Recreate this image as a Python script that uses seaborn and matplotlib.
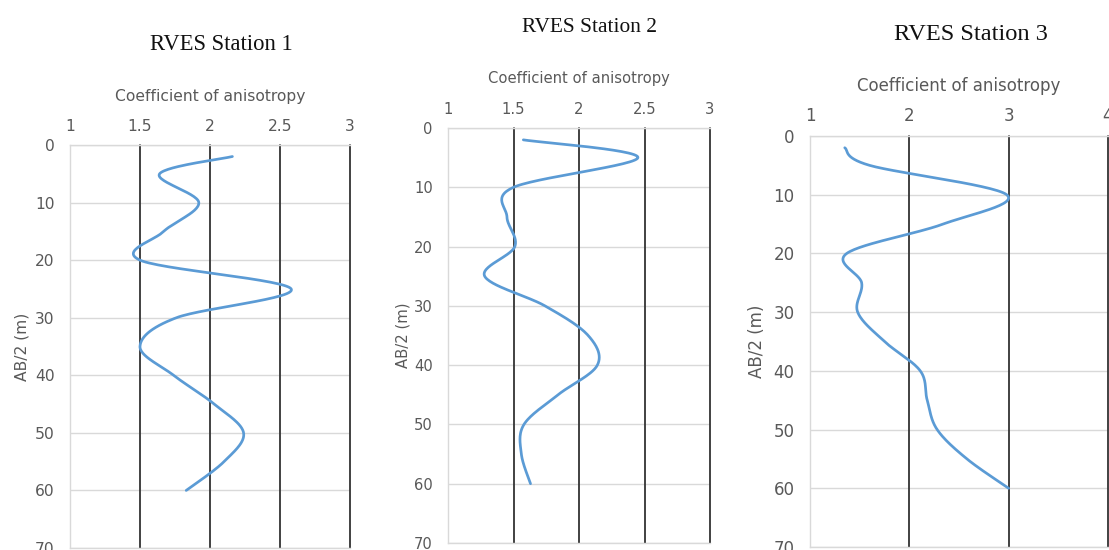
import numpy as np
import pandas as pd
import matplotlib
matplotlib.use("Agg")
import matplotlib.pyplot as plt
import seaborn as sns

# ---- data: coefficient of anisotropy at each half electrode spacing AB/2 (m) ----
ab2 = [2, 5, 10, 15, 20, 25, 30, 35, 40, 45, 50, 55, 60]
station1_coef = [2.16, 1.64, 1.92, 1.67, 1.50, 2.58, 1.76, 1.50, 1.74, 2.03,
                 2.24, 2.10, 1.83]
station2_coef = [1.575, 2.45, 1.50, 1.45, 1.51, 1.28, 1.74, 2.07, 2.14, 1.84,
                 1.58, 1.56, 1.63]
station3_coef = [1.35, 1.60, 2.98, 2.34, 1.37, 1.52, 1.48, 1.75, 2.11, 2.18,
                 2.28, 2.58, 3.00]

titles = ["RVES Station 1", "RVES Station 2", "RVES Station 3"]
x_ticks = [[1, 1.5, 2, 2.5, 3], [1, 1.5, 2, 2.5, 3], [1, 2, 3, 4]]
x_ticklabels = [["1", "1.5", "2", "2.5", "3"], ["1", "1.5", "2", "2.5", "3"],
                ["1", "2", "3", "4"]]
y_ticks = [0, 10, 20, 30, 40, 50, 60, 70]
x_label = "Coefficient of anisotropy"
y_label = "AB/2 (m)"


def smooth(x, y, n=30):
    """Spreadsheet-style smoothed line: cubic Bezier segments whose control
    points lie one sixth of the neighbour chord away (Catmull-Rom)."""
    p = np.column_stack([x, y]).astype(float)
    q = np.vstack([p[0], p, p[-1]])
    t = np.linspace(0, 1, n, endpoint=False)[:, None]
    out = []
    for i in range(1, len(q) - 2):
        p0, p1 = q[i], q[i + 1]
        c1 = p0 + (q[i + 1] - q[i - 1]) / 6.0
        c2 = p1 - (q[i + 2] - q[i]) / 6.0
        seg = ((1 - t) ** 3 * p0 + 3 * (1 - t) ** 2 * t * c1
               + 3 * (1 - t) * t ** 2 * c2 + t ** 3 * p1)
        out.append(seg)
    out.append(p[-1][None, :])
    out = np.vstack(out)
    return out[:, 0], out[:, 1]


sns.set_theme(style="white")
plt.rcParams["font.family"] = ["DejaVu Sans"]

W, H = 1109, 550
fig = plt.figure(figsize=(W / 100, H / 100), dpi=100)
fig.patch.set_facecolor("white")

# panel boxes in pixels: left, right, top, bottom
boxes = [(70, 350, 145, 548), (448, 710, 128, 543), (810, 1108, 136, 547)]
title_pos = [(221, 45), (590, 27), (971, 34)]
title_size = [16.3, 15.4, 17.6]
text_size = [11.2, 10.6, 12.0]
xlabel_y = [97, 79, 86]
ylabel_x = [22, 403, 757]

series = [station1_coef, station2_coef, station3_coef]

grey_text = "#595959"
grid_light = "#d9d9d9"
grid_dark = "#333333"
line_blue = "#5b9bd5"

for k in range(3):
    l, r, t, b = boxes[k]
    ax = fig.add_axes([l / W, 1 - b / H, (r - l) / W, (b - t) / H])
    xs, ys = smooth(series[k], ab2)
    df = pd.DataFrame({"coef": xs, "ab2": ys})
    sns.lineplot(data=df, x="coef", y="ab2", sort=False, estimator=None,
                 color=line_blue, linewidth=1.95, ax=ax, zorder=3)

    xt = x_ticks[k]
    ax.set_xlim(xt[0], xt[-1])
    ax.set_ylim(70, 0)
    ax.set_xticks(xt)
    ax.set_xticklabels(x_ticklabels[k])
    ax.set_yticks(y_ticks)
    ax.set_yticklabels([str(v) for v in y_ticks])
    ax.xaxis.tick_top()
    ax.xaxis.set_label_position("top")

    # light horizontal gridlines, dark vertical gridlines
    ax.grid(axis="y", color=grid_light, linewidth=1.0)
    ax.grid(axis="x", visible=False)
    ax.set_axisbelow(True)
    for v in xt[1:]:
        ax.axvline(v, color=grid_dark, linewidth=1.3, clip_on=False, zorder=1)

    for side in ["top", "left", "bottom"]:
        ax.spines[side].set_visible(True)
        ax.spines[side].set_color(grid_light)
        ax.spines[side].set_linewidth(1.0)
    ax.spines["right"].set_visible(False)

    ax.tick_params(axis="both", length=0, colors=grey_text,
                   labelsize=text_size[k])
    ax.tick_params(axis="x", pad=8)
    ax.tick_params(axis="y", pad=11)

    ax.set_xlabel(x_label, color=grey_text, fontsize=text_size[k])
    ax.xaxis.set_label_coords(0.5, 1 + (t - xlabel_y[k]) / (b - t))
    ax.xaxis.label.set_va("center")
    ax.set_ylabel(y_label, color=grey_text, fontsize=text_size[k])
    ax.yaxis.set_label_coords((ylabel_x[k] - l) / (r - l), 0.5)
    ax.yaxis.label.set_va("center")

    tx, ty = title_pos[k]
    fig.text(tx / W, 1 - ty / H, titles[k], ha="center", va="center",
             fontsize=title_size[k], family="Liberation Serif", color="#111111")

fig.savefig("out.png", dpi=100, facecolor="white")
